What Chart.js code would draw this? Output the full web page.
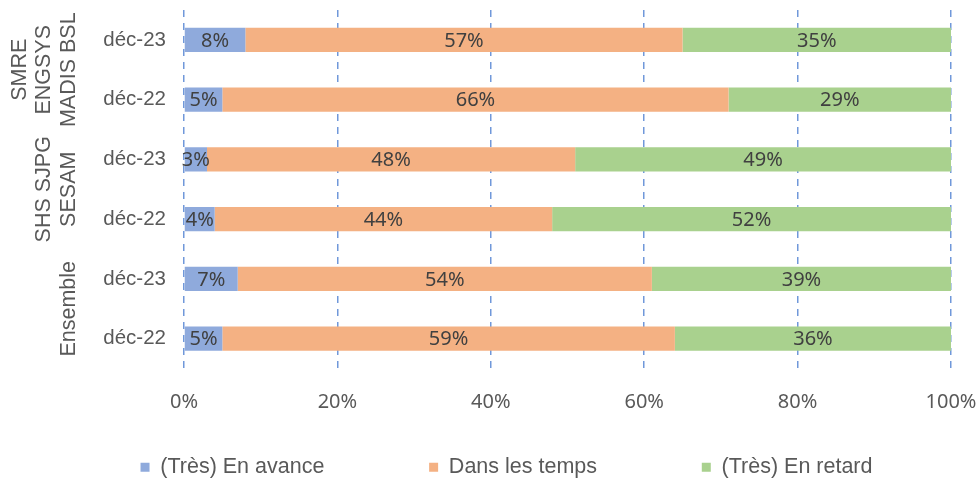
<!DOCTYPE html>
<html>
<head>
<meta charset="utf-8">
<script src="https://cdn.jsdelivr.net/npm/chart.js@4/dist/chart.umd.min.js"></script>
<style>
  html, body { margin: 0; padding: 0; background: #fff; }
  #wrap { width: 978px; height: 479px; }
</style>
</head>
<body>
<div id="wrap"><canvas id="chart" width="978" height="479"></canvas></div>
<script>
// Categories (top to bottom) and their groups
const categories = ['déc-23', 'déc-22', 'déc-23', 'déc-22', 'déc-23', 'déc-22'];
const groupLabels = [['SMRE', 'ENGSYS', 'MADIS BSL'], ['SHS SJPG', 'SESAM'], ['Ensemble']];
const groupSizes = [2, 2, 2];

// Series values (%)
const enAvance = [8, 5, 3, 4, 7, 5];
const dansLesTemps = [57, 66, 48, 44, 54, 59];
const enRetard = [35, 29, 49, 52, 39, 36];

const seriesNames = ['(Très) En avance', 'Dans les temps', '(Très) En retard'];
const xTickValues = [0, 20, 40, 60, 80, 100];

const textColor = '#595959';

// Write the value in the middle of each segment
const segmentLabels = {
  id: 'segmentLabels',
  afterDatasetsDraw(chart) {
    const ctx = chart.ctx;
    ctx.save();
    ctx.font = '20px "Noto Sans"';
    ctx.fillStyle = '#404040';
    ctx.textAlign = 'center';
    ctx.textBaseline = 'middle';
    chart.data.datasets.forEach((ds, i) => {
      chart.getDatasetMeta(i).data.forEach((el, j) => {
        ctx.fillText(ds.data[j] + '%', (el.x + el.base) / 2, el.y + 1);
      });
    });
    ctx.restore();
  }
};

// Rotated group names to the left of the category labels
const groupNames = {
  id: 'groupNames',
  afterDraw(chart) {
    const ctx = chart.ctx, y = chart.scales.y;
    ctx.save();
    ctx.font = '21.5px "Liberation Sans"';
    ctx.fillStyle = textColor;
    ctx.textAlign = 'center';
    ctx.textBaseline = 'middle';
    let start = 0;
    groupLabels.forEach((lines, g) => {
      const end = start + groupSizes[g] - 1;
      const cy = (y.getPixelForValue(start) + y.getPixelForValue(end)) / 2;
      lines.forEach((line, k) => {
        const cx = 69 - (lines.length - 1 - k) * 24.5;
        ctx.save();
        ctx.translate(cx, cy);
        ctx.rotate(-Math.PI / 2);
        ctx.fillText(line, 0, 0);
        ctx.restore();
      });
      start = end + 1;
    });
    ctx.restore();
  }
};

// move the legend to where the original sits
const legendShift = {
  id: 'legendShift',
  afterLayout(chart) {
    chart.legend.top += 9;
    chart.legend.bottom += 9;
    chart.legend.left += 31;
    chart.legend.right += 31;
  }
};

const colors = ['#8FAADC', '#F4B183', '#A9D18E'];
const spacer = '\u2003'.repeat(4) + '\u2002';

new Chart(document.getElementById('chart'), {
  type: 'bar',
  data: {
    labels: categories,
    datasets: [enAvance, dansLesTemps, enRetard].map((data, i) => ({
      label: seriesNames[i],
      data,
      backgroundColor: colors[i],
      borderWidth: 0,
      barPercentage: 0.41,
      categoryPercentage: 1
    }))
  },
  options: {
    indexAxis: 'y',
    responsive: false,
    animation: false,
    devicePixelRatio: 1,
    layout: { padding: { top: 10, right: 27, left: 0, bottom: 0 } },
    scales: {
      x: {
        stacked: true,
        min: 0,
        max: 100,
        afterBuildTicks(scale) {
          scale.ticks = xTickValues.map(v => ({ value: v }));
        },
        afterFit(scale) {
          scale.height = 71;
          scale.paddingLeft = 0;
          scale.paddingRight = 0;
        },
        ticks: {
          callback: v => v + '%',
          color: textColor,
          font: { family: '"Noto Sans"', size: 20 },
          padding: 22,
          maxRotation: 0
        },
        grid: {
          color: '#7098DA',
          lineWidth: 1.5,
          drawTicks: false
        },
        border: { display: false, dash: [7, 6] }
      },
      y: {
        stacked: true,
        afterFit(scale) {
          scale.width = 184;
          scale.paddingTop = 0;
          scale.paddingBottom = 0;
        },
        ticks: {
          color: textColor,
          font: { family: '"Liberation Sans"', size: 20.5 },
          padding: 18
        },
        grid: { display: false, drawTicks: false, tickLength: 0 },
        border: { display: false }
      }
    },
    plugins: {
      legend: {
        position: 'bottom',
        labels: {
          color: textColor,
          font: { family: '"Liberation Sans"', size: 21.5 },
          boxWidth: 9,
          boxHeight: 9,
          padding: 8,
          generateLabels(chart) {
            const items = Chart.defaults.plugins.legend.labels.generateLabels(chart);
            items.forEach((it, i) => {
              if (i < items.length - 1) it.text += spacer;
            });
            return items;
          }
        }
      },
      tooltip: { enabled: false }
    }
  },
  plugins: [segmentLabels, groupNames, legendShift]
});
</script>
</body>
</html>
